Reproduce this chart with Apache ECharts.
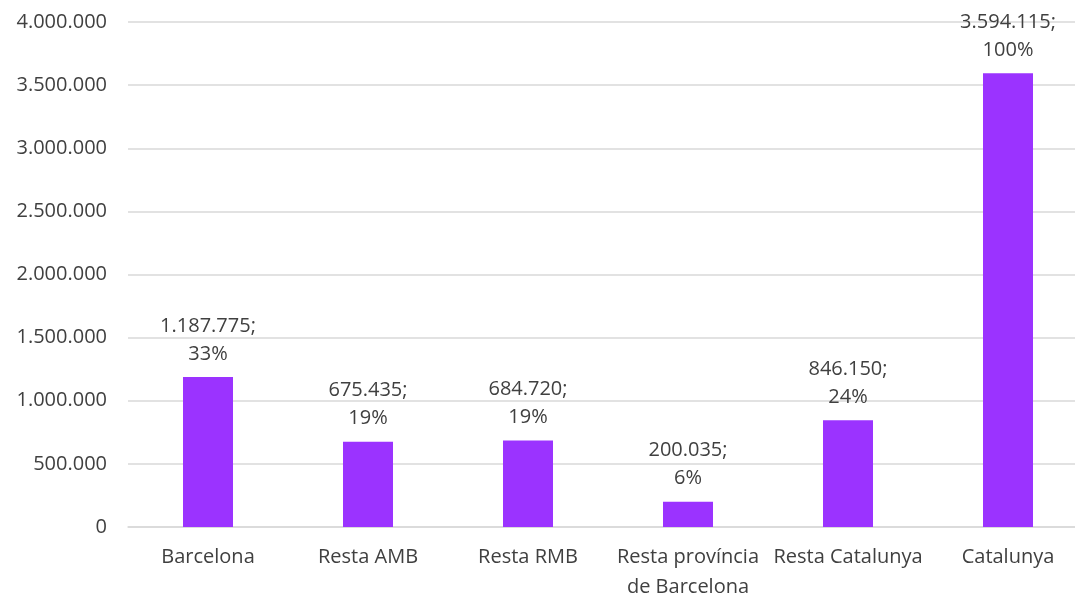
<!DOCTYPE html>
<html>
<head>
<meta charset="utf-8">
<script src="https://cdn.jsdelivr.net/npm/echarts@6/dist/echarts.min.js"></script>
<style>
  html, body { margin: 0; padding: 0; background: #fff; }
  #chart { width: 1075px; height: 597px; }
</style>
</head>
<body>
<div id="chart"></div>
<script>
const categories = ['Barcelona', 'Resta AMB', 'Resta RMB', 'Resta província\nde Barcelona', 'Resta Catalunya', 'Catalunya']
const values = [1187775, 675435, 684720, 200035, 846150, 3594115]
const percents = [33, 19, 19, 6, 24, 100]

const fmt = v => String(v).replace(/\B(?=(\d{3})+(?!\d))/g, '.')

const chart = echarts.init(document.getElementById('chart'))
chart.setOption({
  animation: false,
  textStyle: { fontFamily: 'Open Sans' },
  grid: {
    top: 22,
    left: 128,
    width: 960,
    height: 505,
    outerBoundsMode: 'none',
    containLabel: false
  },
  xAxis: {
    type: 'category',
    data: categories,
    axisLine: { lineStyle: { color: '#d9d9d9', width: 1.5 } },
    axisTick: { show: false },
    axisLabel: {
      color: '#404040',
      fontSize: 20,
      margin: 15,
      lineHeight: 30,
      interval: 0
    }
  },
  yAxis: {
    type: 'value',
    min: 0,
    max: 4000000,
    interval: 500000,
    axisLine: { show: false },
    axisTick: { show: false },
    splitLine: { lineStyle: { color: '#d9d9d9', width: 1.5 } },
    axisLabel: {
      color: '#404040',
      fontSize: 20,
      margin: 21,
      formatter: v => fmt(v)
    }
  },
  series: [{
    type: 'bar',
    data: values,
    barWidth: 50,
    itemStyle: { color: '#9b33ff' },
    label: {
      show: true,
      position: 'top',
      distance: 9,
      color: '#404040',
      fontSize: 20,
      lineHeight: 28,
      formatter: p => fmt(p.value) + ';\n' + percents[p.dataIndex] + '%'
    }
  }]
})
</script>
</body>
</html>
